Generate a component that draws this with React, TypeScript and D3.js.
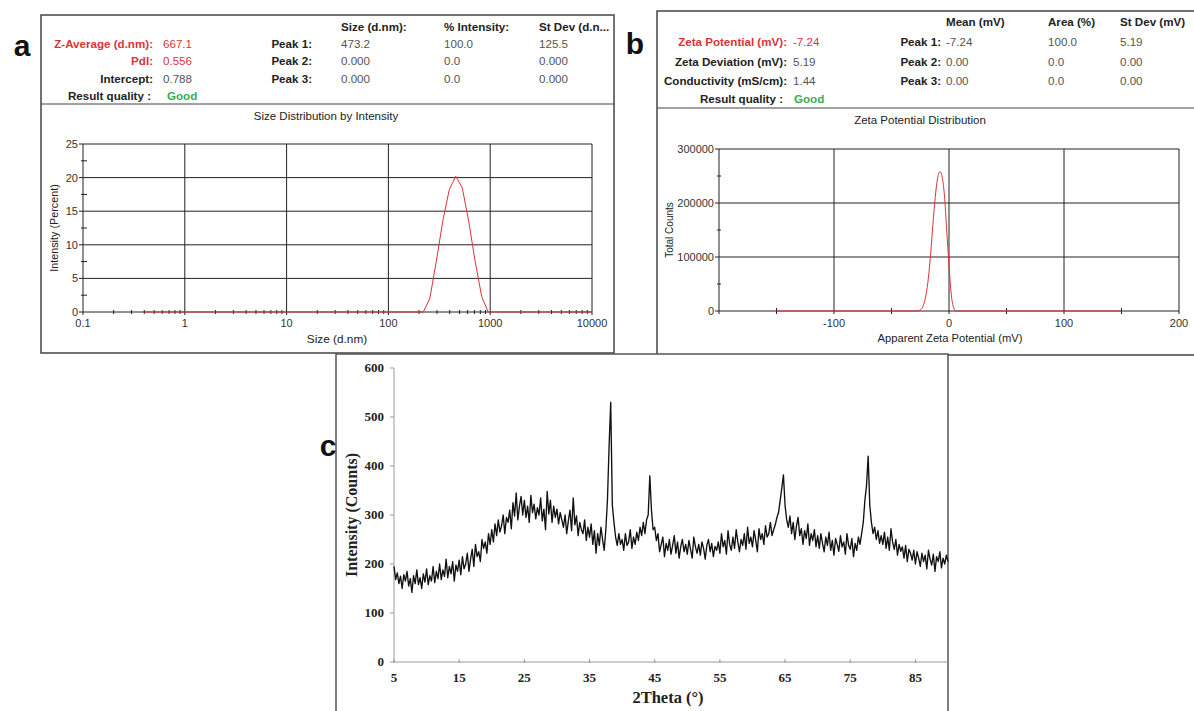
import React from 'react'
import * as d3 from 'd3'

const SANS = 'Liberation Sans, Arial, sans-serif'
const SERIF = 'Liberation Serif, Times New Roman, serif'

// panel a: size distribution (Malvern log bins)
const sizeNm = [0.4, 220.2, 255.0, 295.3, 342.0, 396.1, 458.7, 531.2, 615.1, 712.4, 825.0, 955.4, 10000]
const sizeIntensity = [0, 0, 2.0, 7.5, 13.5, 18.2, 20.2, 18.5, 13.5, 7.5, 2.3, 0, 0]
const sizeHeaders = ['Size (d.nm):', '% Intensity:', 'St Dev (d.n...']
const sizeSummary = [['Z-Average (d.nm):', '667.1'], ['PdI:', '0.556'], ['Intercept:', '0.788']]
const sizePeaks = [
  ['Peak 1:', '473.2', '100.0', '125.5'],
  ['Peak 2:', '0.000', '0.0', '0.000'],
  ['Peak 3:', '0.000', '0.0', '0.000'],
]
const sizeTicks = [0.1, 1, 10, 100, 1000, 10000]
const intensityTicks = [0, 5, 10, 15, 20, 25]

// panel b: zeta potential
const zetaMv = [-150, -28, -25, -22, -20, -18, -16, -14, -12, -10, -8, -7, -6, -4, -2, 0, 2, 4, 6, 150]
const zetaCounts = [0, 0, 2000, 12000, 30000, 60000, 105000, 160000, 210000, 245000, 258000, 256000, 248000, 215000, 150000, 85000, 30000, 6000, 0, 0]
const zetaHeaders = ['Mean (mV)', 'Area (%)', 'St Dev (mV)']
const zetaSummary = [['Zeta Potential (mV):', '-7.24'], ['Zeta Deviation (mV):', '5.19'], ['Conductivity (mS/cm):', '1.44']]
const zetaPeaks = [
  ['Peak 1:', '-7.24', '100.0', '5.19'],
  ['Peak 2:', '0.00', '0.0', '0.00'],
  ['Peak 3:', '0.00', '0.0', '0.00'],
]
const zetaTicks = [-100, 0, 100, 200]
const countTicks = [0, 100000, 200000, 300000]

// panel c: XRD, 2theta from 5 to 90 in 0.25 steps
const thetaStart = 5
const thetaStep = 0.25
const xrdCounts = [
  195, 168, 182, 160, 175, 150, 178, 165, 185, 155, 170, 142, 176, 160, 188, 158, 172, 150, 180, 163,
  190, 158, 176, 165, 195, 162, 185, 170, 200, 168, 188, 175, 210, 172, 195, 180, 205, 165, 198, 185,
  208, 178, 215, 190, 200, 222, 185, 210, 230, 195, 240, 215, 225, 205, 250, 232, 245, 222, 262, 240,
  270, 245, 282, 258, 290, 265, 278, 300, 262, 295, 285, 310, 272, 325, 298, 345, 290, 318, 338, 300,
  330, 295, 318, 285, 340, 305, 322, 292, 315, 300, 335, 288, 312, 270, 348, 302, 330, 285, 318, 295,
  312, 282, 305, 290, 275, 300, 262, 288, 310, 268, 335, 280, 298, 258, 285, 270, 262, 290, 248, 275,
  255, 282, 240, 268, 222, 262, 238, 275, 250, 228, 270, 330, 440, 530, 320, 285, 255, 238, 262, 240,
  250, 228, 262, 238, 245, 270, 232, 255, 240, 265, 248, 275, 258, 285, 262, 290, 300, 380, 310, 270,
  275, 248, 262, 225, 240, 255, 215, 242, 228, 250, 220, 238, 258, 222, 245, 212, 236, 250, 225, 240,
  220, 248, 230, 212, 255, 235, 222, 240, 218, 245, 232, 210, 238, 250, 225, 242, 215, 236, 228, 245,
  222, 262, 235, 248, 220, 268, 240, 228, 255, 232, 270, 245, 225, 250, 238, 262, 230, 275, 242, 255,
  235, 268, 248, 225, 272, 250, 262, 240, 278, 255, 262, 285, 258, 270, 280, 295, 305, 330, 355, 382,
  320, 290, 275, 298, 262, 285, 250, 278, 295, 258, 272, 240, 268, 252, 282, 238, 262, 248, 270, 235,
  258, 232, 262, 242, 225, 255, 238, 265, 228, 248, 218, 252, 240, 226, 258, 235, 245, 220, 262, 238,
  230, 252, 215, 242, 228, 255, 240, 262, 285, 330, 360, 420, 320, 285, 262, 275, 250, 268, 242, 258,
  240, 265, 232, 255, 228, 272, 245, 230, 250, 218, 240, 226, 235, 212, 238, 205, 230, 222, 208, 228,
  200, 225, 212, 195, 222, 205, 218, 190, 228, 210, 198, 220, 185, 215, 205, 225, 192, 212, 200, 218,
  205,
]
const thetaTicks = [5, 15, 25, 35, 45, 55, 65, 75, 85]
const xrdTicks = [0, 100, 200, 300, 400, 500, 600]

const RED = '#d9343a'
const GREEN = '#33b04f'
const VAL = '#555'
const HF = 11.6 // header font size

function Header(props: any) {
  const { labelX, valX, peakX, cols, rowY, headers, summary, peaks, redRows, qualityX } = props
  return (
    <g fontFamily={SANS} fontSize={HF}>
      {headers.map((h: string, i: number) => (
        <text key={h} x={cols[i]} y={rowY[0]} fontWeight="bold" fill="#222">{h}</text>
      ))}
      {summary.map((r: string[], i: number) => (
        <g key={r[0]}>
          <text x={labelX} y={rowY[i + 1]} textAnchor="end" fontWeight="bold" fill={i < redRows ? RED : '#222'}>{r[0]}</text>
          <text x={valX} y={rowY[i + 1]} fill={i < redRows ? RED : VAL}>{r[1]}</text>
        </g>
      ))}
      {peaks.map((r: string[], i: number) => (
        <g key={r[0]}>
          <text x={peakX} y={rowY[i + 1]} textAnchor="end" fontWeight="bold" fill="#222">{r[0]}</text>
          {r.slice(1).map((v, j) => (
            <text key={j} x={cols[j]} y={rowY[i + 1]} fill={VAL}>{v}</text>
          ))}
        </g>
      ))}
      <text x={qualityX[0]} y={rowY[4]} textAnchor="end" fontWeight="bold" fill="#222">Result quality :</text>
      <text x={qualityX[1]} y={rowY[4]} fontWeight="bold" fill={GREEN}>Good</text>
    </g>
  )
}

function SizePanel() {
  const x = d3.scaleLog().domain([0.1, 10000]).range([83, 592])
  const y = d3.scaleLinear().domain([0, 25]).range([312, 144])
  const line = d3.line<number>().x((d, i) => x(sizeNm[i])).y(d => y(d))
  const minor: number[] = []
  ;[0.1, 1, 10, 100, 1000].forEach(dec => d3.range(2, 10).forEach(m => minor.push(dec * m)))
  const [x0, x1] = x.range()
  const [y0, y1] = y.range()
  return (
    <g>
      <rect x={41} y={15} width={573} height={338} fill="none" stroke="#444" strokeWidth={1.5} />
      <line x1={41} x2={614} y1={104} y2={104} stroke="#444" strokeWidth={1.2} />
      <Header labelX={153} valX={163} peakX={312} cols={[341, 444, 539]} rowY={[31, 48, 65, 83, 100]}
        headers={sizeHeaders} summary={sizeSummary} peaks={sizePeaks} redRows={2} qualityX={[151, 167]} />
      <text x={326} y={120} textAnchor="middle" fontFamily={SANS} fontSize={11.5} fill="#222">Size Distribution by Intensity</text>
      {intensityTicks.map(t => (
        <g key={t}>
          <line x1={x0} x2={x1} y1={y(t)} y2={y(t)} stroke="#222" strokeWidth={1} />
          <line x1={x0 - 4} x2={x0} y1={y(t)} y2={y(t)} stroke="#222" />
          <text x={x0 - 5} y={y(t) + 4} textAnchor="end" fontFamily={SANS} fontSize={11} fill="#333">{t}</text>
        </g>
      ))}
      {d3.range(2.5, 25, 5).map(t => (
        <line key={t} x1={x0 - 2} x2={x0 + 4} y1={y(t)} y2={y(t)} stroke="#222" />
      ))}
      {sizeTicks.map(t => (
        <g key={t}>
          <line x1={x(t)} x2={x(t)} y1={y1} y2={y0 + 3} stroke="#222" strokeWidth={1} />
          <text x={x(t)} y={y0 + 15} textAnchor="middle" fontFamily={SANS} fontSize={11} fill="#333">{t}</text>
        </g>
      ))}
      {minor.map(t => (
        <line key={t} x1={x(t)} x2={x(t)} y1={y0 - 2} y2={y0 + 2} stroke="#222" />
      ))}
      <path d={line(sizeIntensity) || ''} fill="none" stroke={RED} strokeWidth={1} />
      <text x={337} y={343} textAnchor="middle" fontFamily={SANS} fontSize={11.8} fill="#222">Size (d.nm)</text>
      <text transform={`translate(58,${(y0 + y1) / 2}) rotate(-90)`} textAnchor="middle" fontFamily={SANS} fontSize={10.8} fill="#222">Intensity (Percent)</text>
    </g>
  )
}

function ZetaPanel() {
  const x = d3.scaleLinear().domain([-200, 200]).range([719, 1179])
  const y = d3.scaleLinear().domain([0, 300000]).range([311, 149])
  const line = d3.line<number>().x((d, i) => x(zetaMv[i])).y(d => y(d)).curve(d3.curveMonotoneX)
  const [x0, x1] = x.range()
  const [y0, y1] = y.range()
  return (
    <g>
      <rect x={657} y={11} width={560} height={344} fill="none" stroke="#444" strokeWidth={1.5} />
      <line x1={657} x2={1194} y1={108} y2={108} stroke="#444" strokeWidth={1.2} />
      <Header labelX={787} valX={793} peakX={941} cols={[946, 1048, 1120]} rowY={[26, 46, 66, 85, 103]}
        headers={zetaHeaders} summary={zetaSummary} peaks={zetaPeaks} redRows={1} qualityX={[783, 794]} />
      <text x={920} y={124} textAnchor="middle" fontFamily={SANS} fontSize={11.5} fill="#222">Zeta Potential Distribution</text>
      {countTicks.map(t => (
        <g key={t}>
          <line x1={x0} x2={x1} y1={y(t)} y2={y(t)} stroke="#222" />
          <line x1={x0 - 4} x2={x0} y1={y(t)} y2={y(t)} stroke="#222" />
          <text x={x0 - 5} y={y(t) + 4} textAnchor="end" fontFamily={SANS} fontSize={11} fill="#333">{t}</text>
        </g>
      ))}
      {[50000, 150000, 250000].map(t => (
        <line key={t} x1={x0 - 2} x2={x0 + 2} y1={y(t)} y2={y(t)} stroke="#222" />
      ))}
      <line x1={x0} x2={x0} y1={y1} y2={y0 + 3} stroke="#222" />
      {zetaTicks.map(t => (
        <g key={t}>
          <line x1={x(t)} x2={x(t)} y1={y1} y2={y0 + 3} stroke="#222" />
          <text x={x(t)} y={y0 + 16} textAnchor="middle" fontFamily={SANS} fontSize={11} fill="#333">{t}</text>
        </g>
      ))}
      {[-150, -50, 50, 150].map(t => (
        <line key={t} x1={x(t)} x2={x(t)} y1={y0 - 3} y2={y0 + 3} stroke="#222" />
      ))}
      <path d={line(zetaCounts) || ''} fill="none" stroke={RED} strokeWidth={1} />
      <text x={950} y={342} textAnchor="middle" fontFamily={SANS} fontSize={11.2} fill="#222">Apparent Zeta Potential (mV)</text>
      <text transform={`translate(673,${(y0 + y1) / 2}) rotate(-90)`} textAnchor="middle" fontFamily={SANS} fontSize={10} fill="#222">Total Counts</text>
    </g>
  )
}

function XrdPanel() {
  const x = d3.scaleLinear().domain([5, 90]).range([394, 948])
  const y = d3.scaleLinear().domain([0, 600]).range([662, 368])
  const line = d3.line<number>().x((d, i) => x(thetaStart + i * thetaStep)).y(d => y(d))
  const [x0, x1] = x.range()
  const [y0, y1] = y.range()
  return (
    <g>
      <rect x={336} y={354} width={612} height={370} fill="#fff" stroke="#555" strokeWidth={1.5} />
      <line x1={x0} x2={x0} y1={y1} y2={y0} stroke="#999" />
      <line x1={x0} x2={x1} y1={y0} y2={y0} stroke="#999" />
      {xrdTicks.map(t => (
        <g key={t}>
          <line x1={x0 - 4} x2={x0} y1={y(t)} y2={y(t)} stroke="#999" />
          <text x={x0 - 10} y={y(t) + 4} textAnchor="end" fontFamily={SERIF} fontWeight="bold" fontSize={13} fill="#222">{t}</text>
        </g>
      ))}
      {thetaTicks.map(t => (
        <g key={t}>
          <line x1={x(t)} x2={x(t)} y1={y0 - 3} y2={y0 + 1} stroke="#999" />
          <text x={x(t)} y={y0 + 20} textAnchor="middle" fontFamily={SERIF} fontWeight="bold" fontSize={13} fill="#222">{t}</text>
        </g>
      ))}
      <path d={line(xrdCounts) || ''} fill="none" stroke="#111" strokeWidth={1.35} strokeLinejoin="round" />
      <text x={668} y={703} textAnchor="middle" fontFamily={SERIF} fontWeight="bold" fontSize={16.5} fill="#222">2Theta (°)</text>
      <text transform={`translate(357,${(y0 + y1) / 2}) rotate(-90)`} textAnchor="middle" fontFamily={SERIF} fontWeight="bold" fontSize={16} fill="#222">Intensity (Counts)</text>
      <text x={328} y={456} textAnchor="middle" fontFamily={SANS} fontWeight="bold" fontSize={30} fill="#111">c</text>
    </g>
  )
}

export default function App() {
  return (
    <svg width={1194} height={711} style={{ position: 'absolute', left: 0, top: 0, background: '#fff' }}>
      <rect width={1194} height={711} fill="#fff" />
      <SizePanel />
      <ZetaPanel />
      <XrdPanel />
      <text x={22} y={56} textAnchor="middle" fontFamily={SANS} fontWeight="bold" fontSize={30} fill="#111">a</text>
      <text x={635} y={54} textAnchor="middle" fontFamily={SANS} fontWeight="bold" fontSize={30} fill="#111">b</text>
    </svg>
  )
}
